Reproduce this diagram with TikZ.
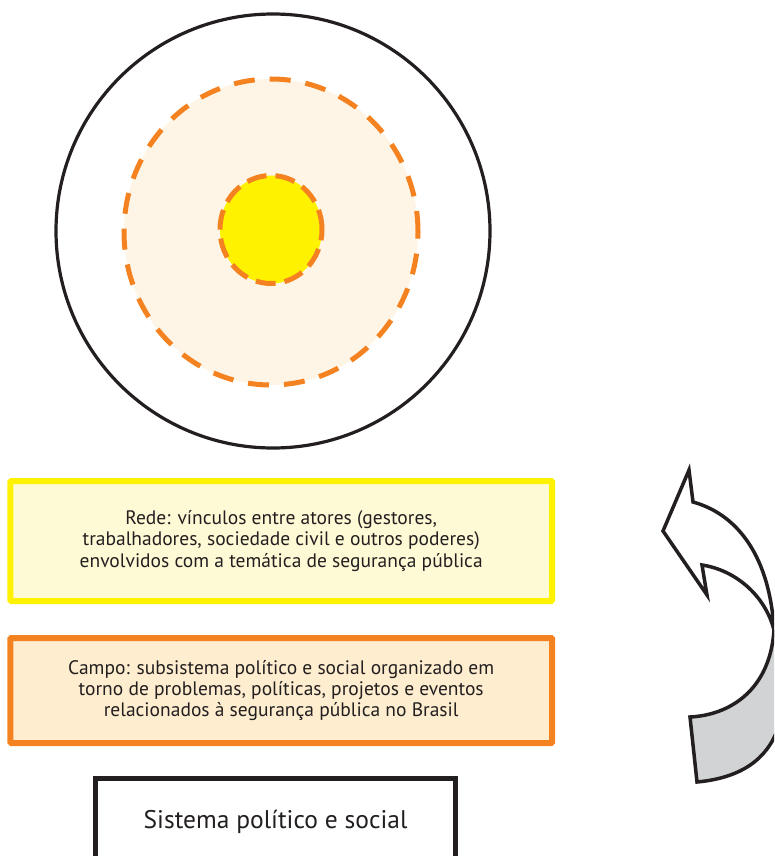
\documentclass[tikz,border=0pt]{standalone}
\usepackage{fontspec}
\setmainfont{PT Sans}
\definecolor{orn}{HTML}{F58220}
\definecolor{peach}{HTML}{FEF5E6}
\definecolor{yel}{HTML}{FFF200}
\definecolor{yelfill}{HTML}{FFFAD6}
\definecolor{ornfill}{HTML}{FEEDCF}
\definecolor{arrgray}{HTML}{D1D3D4}
\definecolor{txt}{HTML}{231F20}
\begin{document}
\begin{tikzpicture}[x=1pt,y=-1pt,
  boxtext/.style={align=center, text=txt, font=\fontsize{19.5}{21.2}\selectfont, inner sep=0pt},
  redebox/.style={boxtext, draw=yel, fill=yelfill, line width=6pt, minimum width=541.7pt, minimum height=120pt, rounded corners=1pt},
  campobox/.style={boxtext, draw=orn, fill=ornfill, line width=6pt, minimum width=541.7pt, minimum height=105pt, rounded corners=1pt},
  sysbox/.style={draw=txt, line width=5pt, minimum width=359.7pt, minimum height=100pt, text=txt, font=\fontsize{25.5}{29}\selectfont, inner sep=0pt},
  arrline/.style={draw=txt, line width=3.5pt, line join=miter}
]
\useasboundingbox (0,0) rectangle (774,856);
\clip (0,0) rectangle (774,856);
% circles
\draw[txt, line width=3.2pt] (273,231) circle[radius=217pt];
\draw[draw=orn, fill=peach, line width=5pt, dash pattern=on 21pt off 15pt] (271,232) ellipse[x radius=147pt, y radius=153pt];
\draw[draw=orn, fill=yel, line width=5pt, dash pattern=on 20pt off 9pt] (271,229.5) ellipse[x radius=51pt, y radius=54pt];
% boxes
\node[redebox] (rede) at (281.2,541) {Rede: vínculos entre atores (gestores,\\trabalhadores, sociedade civil e outros poderes)\\envolvidos com a temática de segurança pública};
\node[campobox] (campo) at (281.2,690.5) {Campo: subsistema político e social organizado em\\torno de problemas, políticas, projetos e eventos\\relacionados à segurança pública no Brasil};
\node[sysbox] (sys) at (275.6,828.2) {\raisebox{17pt}{Sistema político e social}};
% curved arrow (twisted ribbon)
\coordinate (twist) at (774,630);
\coordinate (headA) at (693,502);
\coordinate (headTop) at (689,470);
\coordinate (headL) at (663,531);
\coordinate (headB) at (707,595);
\coordinate (barb) at (702,565);
\coordinate (tailTop) at (690,717);
\coordinate (tailBot) at (697,782);
\coordinate (tailR) at (778,728);
\fill[arrgray] (twist) .. controls (770,690) and (730,715) .. (tailTop) -- (tailBot) .. controls (740,778) and (767,760) .. (tailR) -- (780,630) -- cycle;
\draw[arrline] (twist) .. controls (770,690) and (730,715) .. (tailTop) -- (tailBot) .. controls (740,778) and (767,760) .. (tailR);
\filldraw[arrline, fill=white] (barb) -- (headB) -- (headL) -- (headTop) -- (headA) .. controls (740,515) and (770,560) .. (twist) .. controls (765,595) and (735,570) .. (barb) -- cycle;
\end{tikzpicture}
\end{document}
